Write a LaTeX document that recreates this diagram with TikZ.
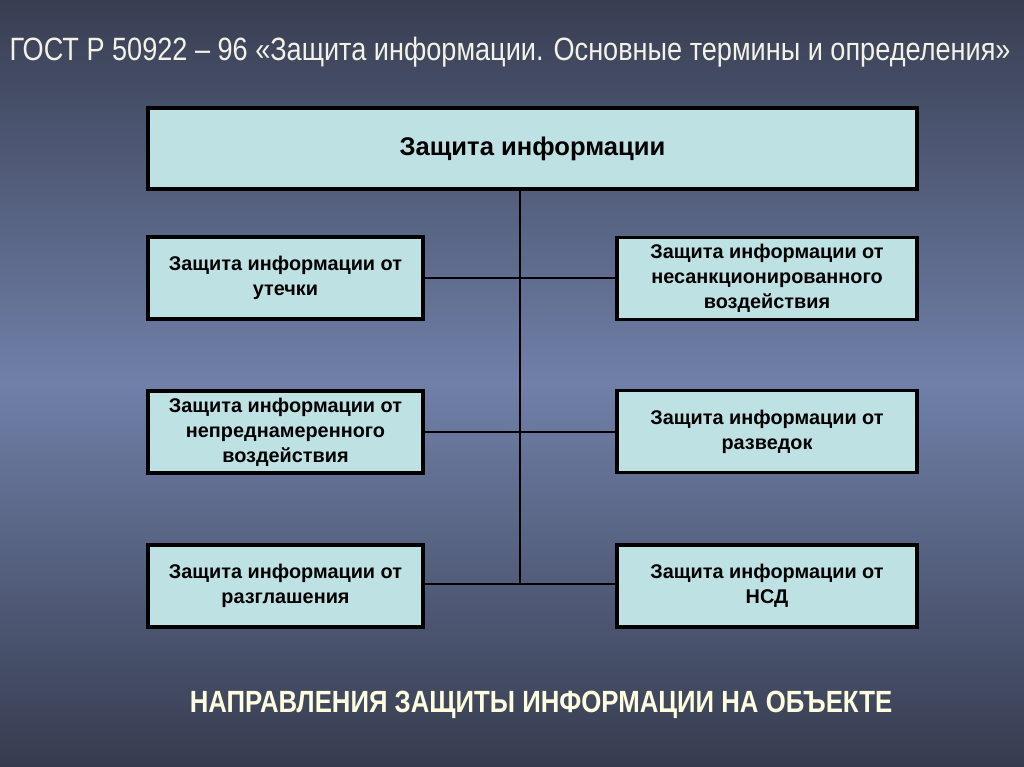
\documentclass[tikz,border=0pt]{standalone}
\usepackage{fontspec}
\setmainfont{Liberation Sans}
\newfontfamily\narrowfont[FakeStretch=0.84]{Liberation Sans}
\newfontfamily\narrowboldfont[FakeStretch=0.84]{Liberation Sans Bold}
\definecolor{bgtop}{HTML}{383E52}
\definecolor{bgmid}{HTML}{7080A8}
\definecolor{bgbot}{HTML}{363C4F}
\definecolor{boxfill}{HTML}{BEE2E3}
\definecolor{titlecol}{HTML}{F2F2E6}
\definecolor{subcol}{HTML}{FFFFE0}
\tikzset{
  box/.style={draw=black, line width=2.4pt, fill=boxfill, align=center,
    font=\bfseries\fontsize{14.9}{18.6}\selectfont, inner sep=0pt},
  link/.style={draw=black, line width=2.2pt},
}
\begin{document}
\begin{tikzpicture}[x=0.75pt,y=-0.75pt]
\useasboundingbox (0,0) rectangle (1024,767);
\shade[top color=bgtop, bottom color=bgbot, middle color=bgmid] (0,0) rectangle (1024,767);
\node[font=\narrowfont\fontsize{24.2}{28}\selectfont, text=titlecol, anchor=center] (title) at (510,52) {ГОСТ Р 50922 – 96 «Защита информации. Основные термины и определения»};
\node[box, minimum width=576.75pt, minimum height=60.75pt, font=\bfseries\fontsize{19.2}{22}\selectfont] (top) at (532.5,148.5) {Защита информации};
\node[box, minimum width=206.25pt, minimum height=61.5pt] (l1) at (285.5,278) {Защита информации от\\утечки};
\node[box, minimum width=206.25pt, minimum height=61.5pt] (l2) at (285.5,432) {Защита информации от\\непреднамеренного\\воздействия};
\node[box, minimum width=206.25pt, minimum height=61.5pt] (l3) at (285.5,586) {Защита информации от\\разглашения};
\node[box, minimum width=225pt, minimum height=61.5pt] (r1) at (767,278.5) {Защита информации от\\несанкционированного\\воздействия};
\node[box, minimum width=225pt, minimum height=61.5pt] (r2) at (767,431.5) {Защита информации от\\разведок};
\node[box, minimum width=225pt, minimum height=61.5pt] (r3) at (767,586) {Защита информации от\\НСД};
\coordinate (t1) at (520,278);
\coordinate (t2) at (520,432);
\coordinate (t3) at (520,584);
\draw[link] (top.south -| t1) -- (t3);
\draw[link] (l1.east |- t1) -- (r1.west |- t1);
\draw[link] (l2.east |- t2) -- (r2.west |- t2);
\draw[link] (l3.east |- t3) -- (r3.west |- t3);
\node[font=\narrowboldfont\fontsize{23}{26}\selectfont, text=subcol] (sub) at (541,705) {НАПРАВЛЕНИЯ ЗАЩИТЫ ИНФОРМАЦИИ НА ОБЪЕКТЕ};
\end{tikzpicture}
\end{document}
